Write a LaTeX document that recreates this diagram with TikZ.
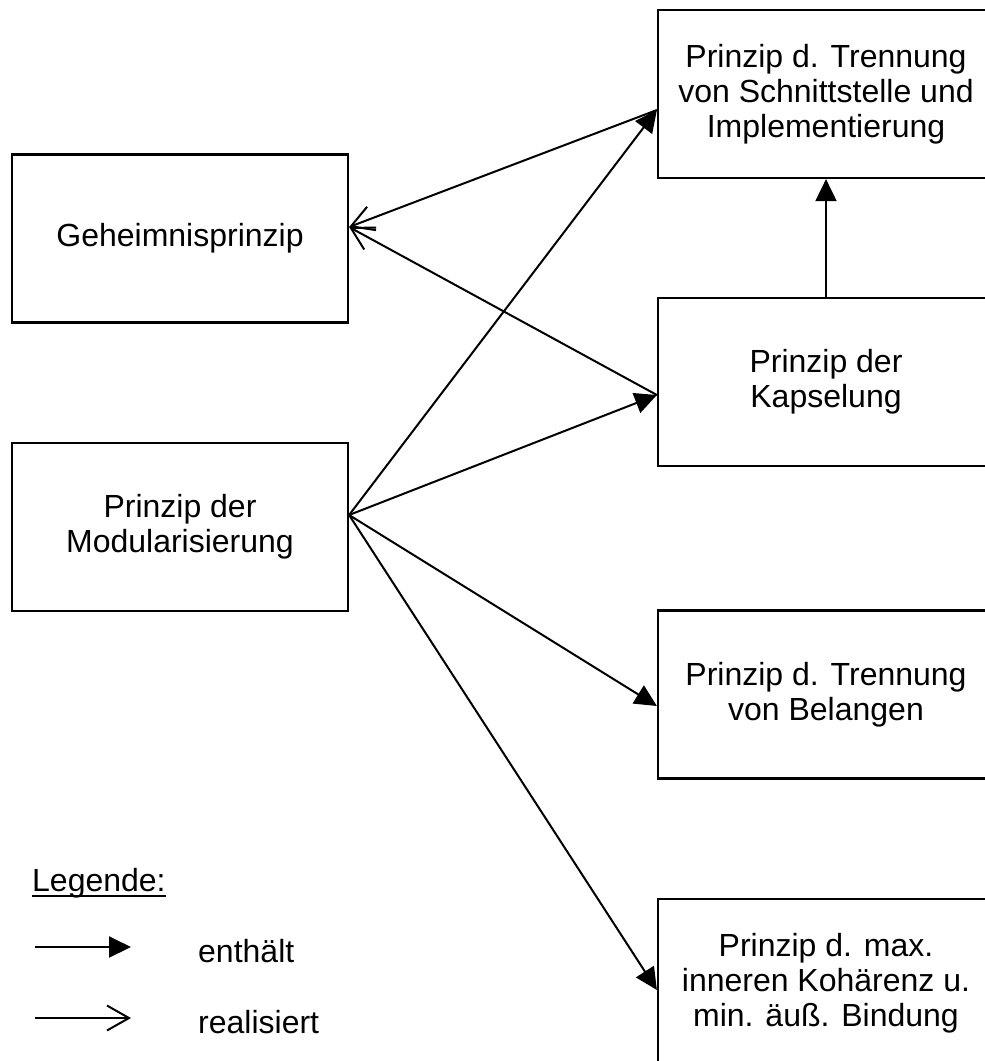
\documentclass[tikz,border=0pt]{standalone}
\usepackage{fontspec}
\setmainfont{Liberation Sans}
\usetikzlibrary{arrows.meta,calc}

\tikzset{
  x=1pt, y=-1pt,
  box/.style={draw, line width=2.2pt, rectangle, minimum width=336pt,
    minimum height=168pt, inner sep=0pt, align=center,
    font=\fontsize{32}{35}\selectfont},
  contains/.style={line width=2pt, -{Triangle[length=22pt,width=21pt]}},
  realizes/.style={line width=2pt, -{Straight Barb[length=22pt,width=25pt,line width=2pt]}},
  legtext/.style={anchor=base west, inner sep=0pt, font=\fontsize{32}{35}\selectfont}
}

\begin{document}
\begin{tikzpicture}
  \clip (0,0) rectangle (985,1061);
  \fill[white] (0,0) rectangle (985,1061);

  % left column
  \node[box] (geh) at (180,238.5) {Geheimnisprinzip};
  \node[box] (mod) at (180,527) {Prinzip der\\Modularisierung};

  % right column (boxes run past the right edge)
  \node[box] (trs) at (826,94) {Prinzip d. Trennung\\von Schnittstelle und\\Implementierung};
  \node[box] (kap) at (826,382) {Prinzip der\\Kapselung};
  \node[box] (bel) at (826,694.5) {Prinzip d. Trennung\\von Belangen};
  \node[box] (koh) at (826,983) {Prinzip d. max.\\inneren Koh\"arenz u.\\min. \"au\ss. Bindung};

  % attachment points
  \coordinate (modOut) at ($(mod.east)+(0,-12)$);
  \coordinate (gehIn)  at ($(geh.east)+(0,-11.5)$);
  \coordinate (trsIn)  at ($(trs.west)+(0,16)$);
  \coordinate (kapIn)  at ($(kap.west)+(0,13)$);
  \coordinate (belIn)  at ($(bel.west)+(0,11.5)$);
  \coordinate (kohIn)  at ($(koh.west)+(0,7)$);

  % realisiert
  \draw[realizes] (trsIn) -- (gehIn);
  \draw[realizes] (kapIn) -- (gehIn);

  % enthaelt
  \draw[contains] (modOut) -- (trsIn);
  \draw[contains] (modOut) -- (kapIn);
  \draw[contains] (modOut) -- (belIn);
  \draw[contains] (modOut) -- (kohIn);
  \draw[contains] (kap.north) -- (trs.south);

  % legend
  \node[legtext] (leg) at (32,891) {Legende:};
  \draw[line width=1.8pt] ($(leg.base west)+(0,5)$) -- ($(leg.base east)+(0,5)$);

  \coordinate (la1) at (35,947);
  \coordinate (lb1) at (131,947);
  \coordinate (la2) at (35,1018);
  \coordinate (lb2) at (131,1018);
  \draw[contains] (la1) -- (lb1);
  \draw[realizes] (la2) -- (lb2);
  \node[legtext] (lenth) at (198,962) {enth\"alt};
  \node[legtext] (lreal) at (198,1033) {realisiert};
\end{tikzpicture}
\end{document}
